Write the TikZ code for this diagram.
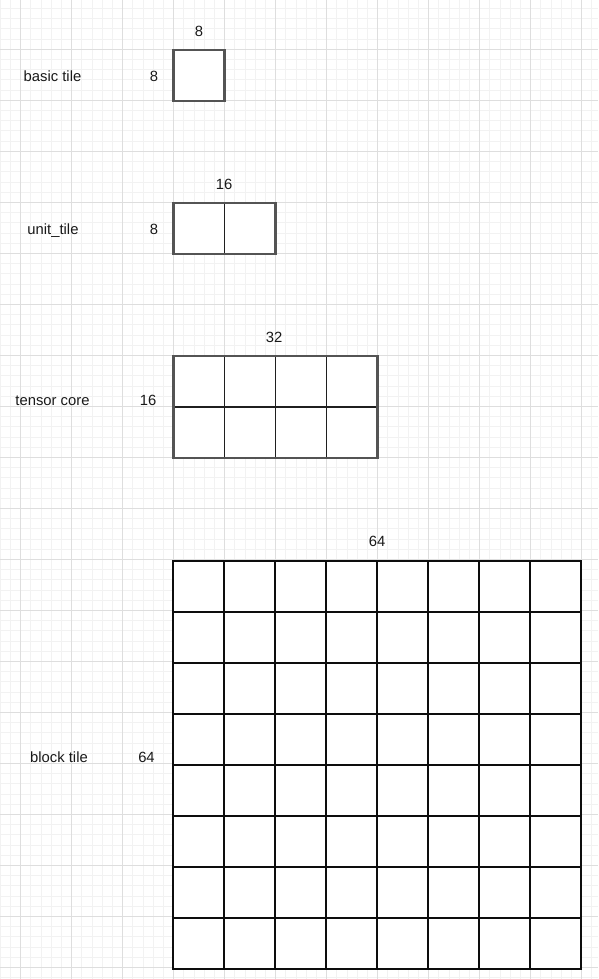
\documentclass[tikz,border=0pt]{standalone}
\usepackage{fontspec}
\setmainfont{Liberation Sans}
\begin{document}
\begin{tikzpicture}[x=1pt,y=-1pt,
  minorline/.style={draw=black!5,line width=0.8pt},
  majorline/.style={draw=black!13,line width=0.9pt},
  outerbox/.style={draw=black!67,line width=2.1pt},
  innerline/.style={draw=black!88,line width=1.6pt},
  blockline/.style={draw=black!95,line width=2pt},
  lbl/.style={font=\fontsize{14.8}{16}\selectfont,text=black!90,inner sep=0pt,anchor=center,text height=1.45ex,text depth=0.25ex}]
\useasboundingbox (0,0) rectangle (598,979);
\fill[white] (0,0) rectangle (598,979);
% grid
\foreach \i in {0,...,58} { \draw[minorline] ({0.1+10.2*\i},0) -- ({0.1+10.2*\i},979); }
\foreach \i in {0,...,96} { \draw[minorline] (0,{-1.7+10.2*\i}) -- (598,{-1.7+10.2*\i}); }
\foreach \i in {0,...,11} { \draw[majorline] ({20.5+51*\i},0) -- ({20.5+51*\i},979); }
\foreach \i in {0,...,19} { \draw[majorline] (0,{-1.5+51*\i}) -- (598,{-1.5+51*\i}); }
% basic tile
\fill[white] (173.5,50) rectangle (224.5,101);
\draw[outerbox] (173.5,50) rectangle (224.5,101);
% unit tile
\fill[white] (173.5,203) rectangle (275.5,254);
\draw[innerline] (224.5,203) -- (224.5,254);
\draw[outerbox] (173.5,203) rectangle (275.5,254);
% tensor core
\fill[white] (173.5,356) rectangle (377.5,458);
\foreach \i in {1,2,3} { \draw[innerline] ({173.5+51*\i},356) -- ({173.5+51*\i},458); }
\draw[innerline] (173.5,407) -- (377.5,407);
\draw[outerbox] (173.5,356) rectangle (377.5,458);
% block tile
\fill[white] (173,560.5) rectangle (581,968.5);
\foreach \i in {1,...,7} {
  \draw[blockline] ({173+51*\i},560.5) -- ({173+51*\i},968.5);
  \draw[blockline] (173,{560.5+51*\i}) -- (581,{560.5+51*\i});
}
\draw[blockline] (173,560.5) rectangle (581,968.5);
% labels
\node[lbl] (t1) at (199,33) {8};
\node[lbl] (n1) at (52.5,78) {basic tile};
\node[lbl] (h1) at (154,78) {8};
\node[lbl] (t2) at (224,186) {16};
\node[lbl] (n2) at (53,231) {unit\_tile};
\node[lbl] (h2) at (154,231) {8};
\node[lbl] (t3) at (274,339) {32};
\node[lbl] (n3) at (52.5,402) {tensor core};
\node[lbl] (h3) at (148,402) {16};
\node[lbl] (t4) at (377,543) {64};
\node[lbl] (n4) at (59,759) {block tile};
\node[lbl] (h4) at (146.5,759) {64};
\end{tikzpicture}
\end{document}
